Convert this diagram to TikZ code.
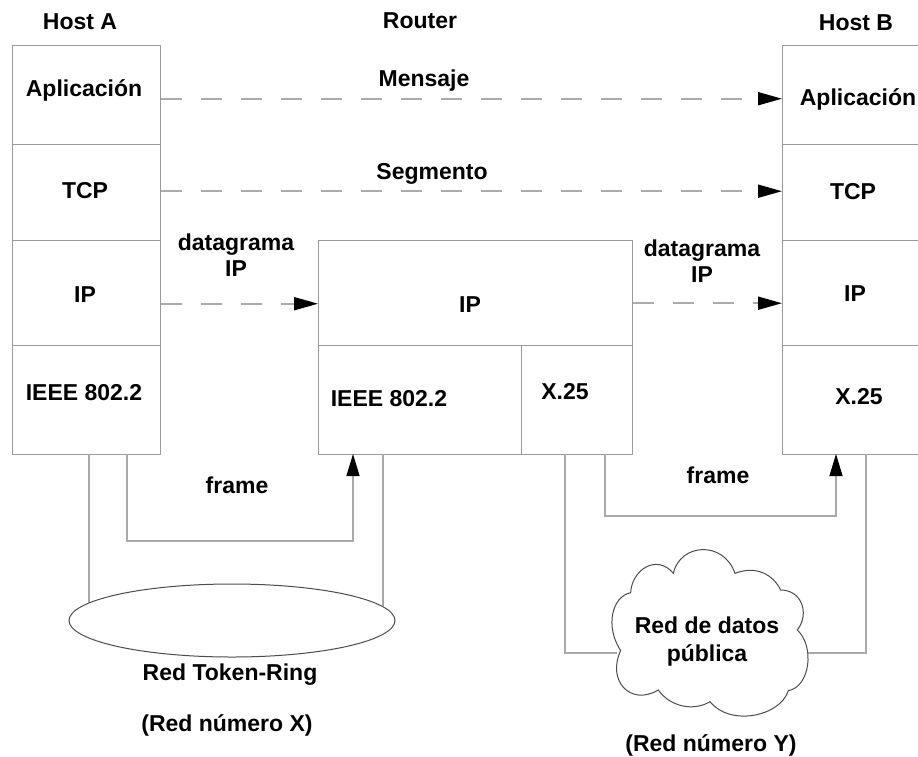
\documentclass[tikz,border=0pt]{standalone}
\usepackage{fontspec}
\setmainfont{Liberation Sans}
\usetikzlibrary{arrows.meta,calc,shapes.geometric}
\definecolor{boxline}{HTML}{9A9A9A}
\definecolor{dashline}{HTML}{ABABAB}
\tikzset{
  x=1pt,y=-1pt,
  layer/.style={draw=boxline,line width=1.4pt,fill=white,inner sep=0pt,anchor=north west},
  lbl/.style={font=\bfseries\fontsize{23}{26}\selectfont,inner sep=0pt,align=center,text=black},
  msg/.style={draw=dashline,line width=1.8pt,dash pattern=on 21pt off 19pt,-{Triangle[length=24pt,width=13pt,black]}},
  wire/.style={draw=boxline!85!white,line width=1.2pt},
  flow/.style={wire,-{Triangle[length=22pt,width=13pt,black]}},
}
\begin{document}
\begin{tikzpicture}
\useasboundingbox (0,0) rectangle (918,756);
\fill[white] (0,0) rectangle (918,756);
% Host A
\node[layer,minimum width=148pt,minimum height=99pt] (aApp) at (12,45) {};
\node[layer,minimum width=148pt,minimum height=96pt] (aTcp) at (12,144) {};
\node[layer,minimum width=148pt,minimum height=105pt] (aIp) at (12,240) {};
\node[layer,minimum width=148pt,minimum height=109pt] (aLlc) at (12,345) {};
% Router
\node[layer,minimum width=314pt,minimum height=105pt] (rIp) at (318,240) {};
\node[layer,minimum width=203pt,minimum height=109pt] (rLlc) at (318,345) {};
\node[layer,minimum width=111pt,minimum height=109pt] (rX) at (521,345) {};
% Host B
\node[layer,minimum width=150pt,minimum height=99pt] (bApp) at (782,45) {};
\node[layer,minimum width=150pt,minimum height=96pt] (bTcp) at (782,144) {};
\node[layer,minimum width=150pt,minimum height=105pt] (bIp) at (782,240) {};
\node[layer,minimum width=150pt,minimum height=109pt] (bX) at (782,345) {};
% Layer labels
\node[lbl] (tHostA) at (80,22) {Host A};
\node[lbl] (tRouter) at (420,21) {Router};
\node[lbl] (tHostB) at (856,23) {Host B};
\node[lbl] (tApA) at (84,90) {Aplicación};
\node[lbl] (tTcpA) at (85,191) {TCP};
\node[lbl] (tIpA) at (85,295) {IP};
\node[lbl] (tLlcA) at (84,393) {IEEE 802.2};
\node[lbl] (tIpR) at (470,305) {IP};
\node[lbl] (tLlcR) at (389,399) {IEEE 802.2};
\node[lbl] (tXR) at (565,392) {X.25};
\node[lbl] (tApB) at (858,99) {Aplicación};
\node[lbl] (tTcpB) at (853,192) {TCP};
\node[lbl] (tIpB) at (855,294) {IP};
\node[lbl] (tXB) at (859,397) {X.25};
% Message labels
\node[lbl] (tMsg) at (424,81) {Mensaje};
\node[lbl] (tSeg) at (432,174) {Segmento};
\node[lbl,text width=130pt] (tDgA) at (236,255) {datagrama\\IP};
\node[lbl,text width=130pt] (tDgB) at (702,261) {datagrama\\IP};
\node[lbl] (tFrA) at (237,485) {frame};
\node[lbl] (tFrB) at (718,475) {frame};
% Dashed message flows
\draw[msg] ([yshift=-3.5pt]aApp.east) -- ([yshift=-3.5pt]bApp.west);
\coordinate (sT) at ($(aTcp.east)+(0,-1.5)$);
\draw[msg] (sT) -- (sT -| bTcp.west);
\coordinate (sI) at ($(aIp.east)+(0,10.5)$);
\draw[msg] (sI) -- (sI -| rIp.west);
\coordinate (sJ) at ($(rIp.east)+(0,10)$);
\draw[msg] (sJ) -- (sJ -| bIp.west);
% Frame flows
\coordinate (fa) at (127,454);
\coordinate (fb) at (353,454);
\coordinate (fc) at (605,454);
\coordinate (fd) at (836,454);
\draw[flow] (fa) -- (127,541) -- (353,541) -- (fb);
\draw[flow] (fc) -- (605,516) -- (836,516) -- (fd);
% Token ring
\coordinate (ra) at (89,454);
\coordinate (rb) at (383,454);
\coordinate (ra2) at (89,606);
\coordinate (rb2) at (383,606);
\draw[wire] (ra) -- (ra2);
\draw[wire] (rb) -- (rb2);
\node[draw=black!70,line width=1pt,ellipse,fill=white,minimum width=326pt,minimum height=73pt,inner sep=0pt] (ring) at (232,620.5) {};
% Cloud wires
\coordinate (ca) at (565,454);
\coordinate (cb) at (866,454);
\coordinate (cl) at (617,653);
\coordinate (cr) at (808,653);
\draw[wire] (ca) -- (ca |- cl) -- (cl);
\draw[wire] (cb) -- (cb |- cr) -- (cr);
% Cloud
\begin{scope}[shift={(540pt,-440pt)},x=0.33333pt,y=-0.33333pt]
\draw[draw=black!70,line width=1pt,fill=white]
 (242,632) .. controls (195,560) and (215,470) .. (272,458)
 .. controls (275,390) and (350,340) .. (400,400)
 .. controls (420,310) and (550,300) .. (585,400)
 .. controls (650,375) and (700,405) .. (722,450)
 .. controls (785,450) and (810,520) .. (772,570)
 .. controls (825,620) and (810,740) .. (745,752)
 .. controls (720,830) and (570,860) .. (510,785)
 .. controls (460,815) and (390,800) .. (355,750)
 .. controls (270,800) and (200,720) .. (242,632) -- cycle;
\end{scope}
\node[lbl] (tCloud) at (707,642) {Red de datos\\[2pt]pública};
\node[lbl] (tRing) at (230,675) {Red Token-Ring};
\node[lbl] (tRingN) at (227,725) {(Red número X)};
\node[lbl] (tCloudN) at (711,745) {(Red número Y)};
\end{tikzpicture}
\end{document}
